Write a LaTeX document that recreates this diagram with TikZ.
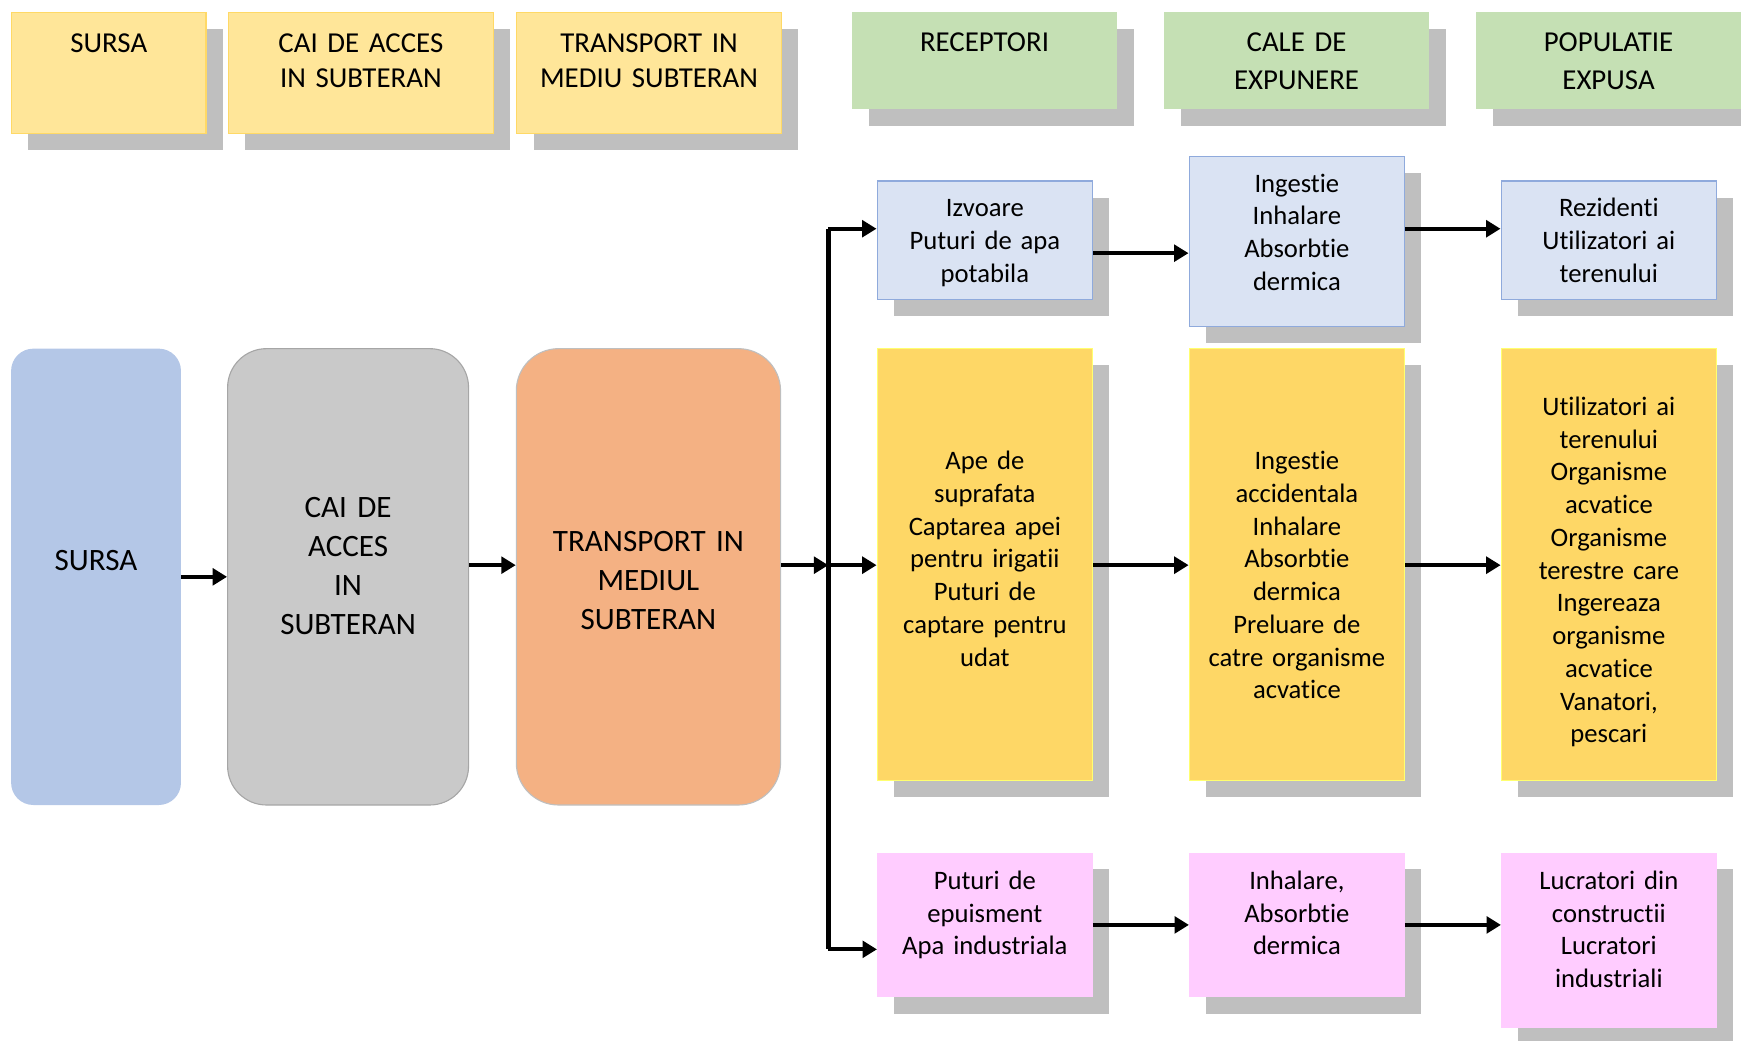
\documentclass[tikz,border=0pt]{standalone}
\usepackage{fontspec}
\setmainfont{Carlito}[RawFeature={-liga}]
\usepackage{tikz}
\usetikzlibrary{arrows.meta,shadows}
\definecolor{hdryel}{HTML}{FFE699}
\definecolor{hdryeldraw}{HTML}{FFD966}
\definecolor{hdrgrn}{HTML}{C5E0B4}
\definecolor{shadowgray}{HTML}{BFBFBF}
\definecolor{srcblue}{HTML}{B4C7E7}
\definecolor{accgray}{HTML}{C9C9C9}
\definecolor{accdraw}{HTML}{A6A6A6}
\definecolor{trnorange}{HTML}{F4B183}
\definecolor{trndraw}{HTML}{BFBFBF}
\definecolor{lblue}{HTML}{DAE3F3}
\definecolor{lbluedraw}{HTML}{8FAADC}
\definecolor{midyel}{HTML}{FED766}
\definecolor{midyeldraw}{HTML}{FFFF70}
\definecolor{lpink}{HTML}{FFCCFF}
\tikzset{
  shd/.style={drop shadow={shadow xshift=15pt, shadow yshift=-15pt,
              fill=shadowgray, opacity=1}},
  hdry/.style={shd, anchor=north west, inner sep=0pt, align=center,
               fill=hdryel, draw=hdryeldraw, line width=1pt,
               text height=35.5pt, text depth=73.5pt,
               font=\fontsize{26}{32}\selectfont},
  hdrg/.style={shd, anchor=north west, inner sep=0pt, align=center,
               fill=hdrgrn, text width=239pt,
               text height=35.5pt, text depth=51.5pt,
               font=\fontsize{26}{34}\selectfont},
  bigbox/.style={inner sep=0pt, align=center, minimum height=411pt,
                 text height=0pt, font=\fontsize{28}{35}\selectfont},
  rbox/.style={shd, inner sep=0pt, align=center, text width=194pt,
               text height=0pt, font=\fontsize{24}{29.5}\selectfont},
  rblue/.style={rbox, fill=lblue, draw=lbluedraw, line width=1.2pt},
  ryel/.style={rbox, fill=midyel, draw=midyeldraw, line width=1pt,
               minimum height=389pt},
  rpink/.style={rbox, fill=lpink},
  arr/.style={line width=3.6pt, -{Triangle[length=13pt,width=15pt]}},
  bus/.style={line width=4.2pt}
}
\begin{document}
\begin{tikzpicture}[x=1pt,y=-1pt]
  \useasboundingbox (0,0) rectangle (1568,937);
  % header row
  \node[hdry, text width=175pt] (h1) at (10,11) {SURSA};
  \node[hdry, text width=239pt] (h2) at (205,11) {CAI DE ACCES\\IN SUBTERAN};
  \node[hdry, text width=238pt] (h3) at (465,11) {TRANSPORT IN\\MEDIU SUBTERAN};
  \node[hdrg] (h4) at (767,11) {RECEPTORI};
  \node[hdrg] (h5) at (1048,11) {CALE DE\\EXPUNERE};
  \node[hdrg] (h6) at (1329,11) {POPULATIE\\EXPUSA};
  % left chain
  \node[bigbox, fill=srcblue, rounded corners=20pt, text width=153pt,
        text depth=11pt] (src) at (86.5,519.5) {SURSA};
  \node[bigbox, fill=accgray, draw=accdraw, line width=1pt,
        rounded corners=35pt, text width=217pt, text depth=107pt]
    (acc) at (313.5,519.5) {CAI DE\\ACCES\\IN\\SUBTERAN};
  \node[bigbox, fill=trnorange, draw=trndraw, line width=1pt,
        rounded corners=38pt, text width=238pt, text depth=45pt]
    (trn) at (584,519.5) {TRANSPORT IN\\MEDIUL\\SUBTERAN};
  % receptori
  \node[rblue, minimum height=107pt, text depth=43pt] (r1) at (887,216.5)
    {Izvoare\\Puturi de apa\\potabila};
  \node[ryel, text depth=171pt] (r2) at (887,508.5)
    {Ape de\\suprafata\\Captarea apei\\pentru irigatii\\Puturi de\\captare pentru\\udat};
  \node[rpink, minimum height=130pt, text depth=64pt] (r3) at (887,833)
    {Puturi de\\epuisment\\Apa industriala};
  % cale de expunere
  \node[rblue, minimum height=153pt, text depth=89pt] (e1) at (1168,217.5)
    {Ingestie\\Inhalare\\Absorbtie\\dermica};
  \node[ryel, text depth=171pt] (e2) at (1168,508.5)
    {Ingestie\\accidentala\\Inhalare\\Absorbtie\\dermica\\Preluare de\\catre organisme\\acvatice};
  \node[rpink, minimum height=130pt, text depth=64pt] (e3) at (1168,833)
    {Inhalare,\\Absorbtie\\dermica};
  % populatie expusa
  \node[rblue, minimum height=107pt, text depth=43pt] (p1) at (1449,216.5)
    {Rezidenti\\Utilizatori ai\\terenului};
  \node[ryel, text depth=269pt] (p2) at (1449,508.5)
    {Utilizatori ai\\terenului\\Organisme\\acvatice\\Organisme\\terestre care\\Ingereaza\\organisme\\acvatice\\Vanatori,\\pescari};
  \node[rpink, minimum height=158pt, text depth=92pt] (p3) at (1449,847)
    {Lucratori din\\constructii\\Lucratori\\industriali};
  % connectors
  \coordinate (bt) at (746,206);
  \coordinate (bm) at (746,509);
  \coordinate (bb) at (746,855);
  \draw[bus] (bt) -- (bb);
  \draw[arr] (src.east) -- (acc.west);
  \draw[arr] (acc.east |- bm) -- (trn.west |- bm);
  \draw[arr] (trn.east |- bm) -- (bm);
  \draw[arr] (bt) -- (r1.west |- bt);
  \draw[arr] (bm) -- (r2.west |- bm);
  \draw[arr] (bb) -- (r3.west |- bb);
  \draw[arr] (r1.east |- 0,228) -- (e1.west |- 0,228);
  \draw[arr] (e1.east |- bt) -- (p1.west |- bt);
  \draw[arr] (r2.east |- bm) -- (e2.west |- bm);
  \draw[arr] (e2.east |- bm) -- (p2.west |- bm);
  \draw[arr] (r3.east) -- (e3.west);
  \draw[arr] (e3.east |- r3.east) -- (p3.west |- r3.east);
\end{tikzpicture}
\end{document}
